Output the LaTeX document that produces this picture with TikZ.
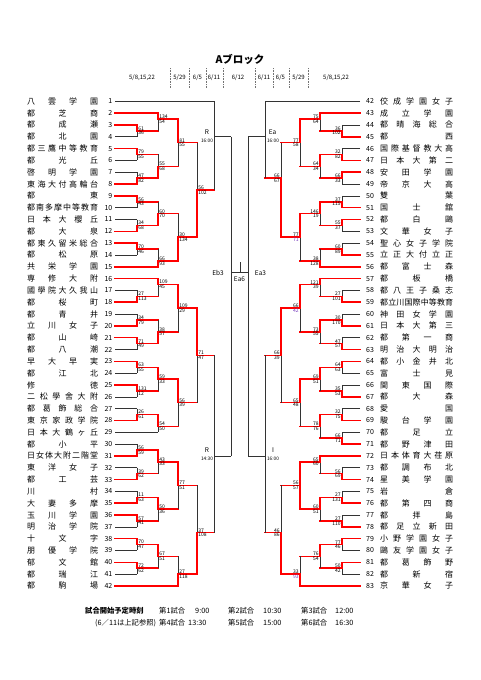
\documentclass[tikz,border=0pt]{standalone}
\usepackage{fontspec}
\setmainfont{Noto Sans CJK JP}
\definecolor{pur}{RGB}{120,60,190}
\newcommand\pur[1]{\textcolor{pur}{#1}}
\newcommand\yr[1]{(101.3+((#1)-1)*11.82)}
\newcommand\spr[2]{\makebox[#1][s]{\sprA#2\relax}}
\def\sprA#1#2\relax{#1\ifx\relax#2\relax\else\hfill\sprA#2\relax\fi}
\def\LO{115}\def\LA{137}\def\LB{158}\def\LC{178}\def\LD{197}\def\LE{214}\def\LF{231}
\def\RO{360}\def\RA{342}\def\RB{320}\def\RC{300}\def\RD{281}\def\RE{265}\def\RF{248}
\newcommand\HL[4]{\draw[#4] (#1,{\yr{#3}}) -- (#2,{\yr{#3}});}
% x, xnext, top, bot, out, winner, score top, score bottom
\newcommand\ML[8]{%
 \draw[lose] (#1,{\yr{#3}}) -- (#1,{\yr{#4}});
 \if n#6\HL{#1}{#2}{#5}{lose}\else\HL{#1}{#2}{#5}{win}\fi
 \if t#6\draw[win] (#1,{\yr{#3}}) -- (#1,{\yr{#5}});\fi
 \if b#6\draw[win] (#1,{\yr{#4}}) -- (#1,{\yr{#5}});\fi
 \if a#6\draw[win] (#1,{\yr{#3}}) -- (#1,{\yr{#4}});\fi
 \node[sc,anchor=south west] at ({#1+0.8},{\yr{#5}}) {#7};
 \node[sc,anchor=north west] at ({#1+0.8},{\yr{#5}}) {#8};}
\newcommand\MR[8]{%
 \draw[lose] (#1,{\yr{#3}}) -- (#1,{\yr{#4}});
 \if n#6\HL{#1}{#2}{#5}{lose}\else\HL{#1}{#2}{#5}{win}\fi
 \if t#6\draw[win] (#1,{\yr{#3}}) -- (#1,{\yr{#5}});\fi
 \if b#6\draw[win] (#1,{\yr{#4}}) -- (#1,{\yr{#5}});\fi
 \if a#6\draw[win] (#1,{\yr{#3}}) -- (#1,{\yr{#4}});\fi
 \node[sc,anchor=south east] at ({#1-0.8},{\yr{#5}}) {#7};
 \node[sc,anchor=north east] at ({#1-0.8},{\yr{#5}}) {#8};}
\newcommand\TNL[2]{\node[nm,anchor=west] (tl#1) at (27,{\yr{#1}}) {\spr{71pt}{#2}};
 \node[num,anchor=east] (nl#1) at (112.5,{\yr{#1}}) {#1};}
\newcommand\TNR[3]{\node[num,anchor=west] (nr#1) at (366,{\yr{#1}}) {#2};
 \node[nm,anchor=west] (tr#1) at (380,{\yr{#1}}) {\spr{73pt}{#3}};}
\tikzset{
 lose/.style={draw=black!80, line width=0.6pt},
 win/.style={draw=red, line width=1.5pt, line cap=rect},
 sc/.style={font=\fontsize{5}{5.5}\selectfont, inner sep=0.3pt},
 nm/.style={font=\fontsize{8}{9}\selectfont, inner sep=0pt},
 num/.style={font=\fontsize{7}{8}\selectfont, inner sep=0pt},
 hdr/.style={font=\fontsize{6}{7}\selectfont, inner sep=0pt},
 sep/.style={draw=black!55, line width=0.4pt, dash pattern=on 0.8pt off 0.8pt},
 lbl/.style={font=\fontsize{6.5}{7}\selectfont, inner sep=0pt},
 tm/.style={font=\fontsize{4.8}{5}\selectfont, inner sep=0pt},
 ft/.style={font=\fontsize{7.3}{8}\selectfont, inner sep=0pt, anchor=west},
}
\begin{document}
\begin{tikzpicture}[x=1pt,y=-1pt]
\fill[white] (0,0) rectangle (481,680);
\useasboundingbox (0,0) rectangle (481,680);
\node[font=\bfseries\fontsize{10.5}{12}\selectfont, inner sep=0pt] (title) at (240,59) {Aブロック};
% header
\node[hdr] (h1) at (142,78) {5/8,15,22};
\node[hdr] (h2) at (179.5,78) {5/29};
\node[hdr] (h3) at (197.5,78) {6/5};
\node[hdr] (h4) at (214,78) {6/11};
\node[hdr] (h5) at (238,78) {6/12};
\node[hdr] (h6) at (264,78) {6/11};
\node[hdr] (h7) at (280.5,78) {6/5};
\node[hdr] (h8) at (298.5,78) {5/29};
\node[hdr] (h9) at (336,78) {5/8,15,22};
\foreach \xx in {170,189.3,205.7,222.7,255,272.7,289,308.3} \draw[sep] (\xx,68) -- (\xx,88);
% left teams
\TNL{1}{八雲学園}\TNL{2}{都芝商}\TNL{3}{都成瀬}\TNL{4}{都北園}\TNL{5}{都三鷹中等教育}
\TNL{6}{都光丘}\TNL{7}{啓明学園}\TNL{8}{東海大付高輪台}\TNL{9}{都東}\TNL{10}{都南多摩中等教育}
\TNL{11}{日本大櫻丘}\TNL{12}{都大泉}\TNL{13}{都東久留米総合}\TNL{14}{都松原}\TNL{15}{共栄学園}
\TNL{16}{専修大附}\TNL{17}{國學院大久我山}\TNL{18}{都桜町}\TNL{19}{都青井}\TNL{20}{立川女子}
\TNL{21}{都山崎}\TNL{22}{都八潮}\TNL{23}{早大早実}\TNL{24}{都江北}\TNL{25}{修徳}
\TNL{26}{二松學舍大附}\TNL{27}{都葛飾総合}\TNL{28}{東京家政学院}\TNL{29}{日本大鶴ヶ丘}\TNL{30}{都小平}
\TNL{31}{日女体大附二階堂}\TNL{32}{東洋女子}\TNL{33}{都工芸}\TNL{34}{川村}\TNL{35}{大妻多摩}
\TNL{36}{玉川学園}\TNL{37}{明治学院}\TNL{38}{十文字}\TNL{39}{朋優学院}\TNL{40}{郁文館}
\TNL{41}{都瑞江}\TNL{42}{都駒場}
% right teams
\TNR{1}{42}{佼成学園女子}\TNR{2}{43}{成立学園}\TNR{3}{44}{都晴海総合}\TNR{4}{45}{都西}
\TNR{5}{46}{国際基督教大高}\TNR{6}{47}{日本大第二}\TNR{7}{48}{安田学園}\TNR{8}{49}{帝京大高}
\TNR{9}{50}{雙葉}\TNR{10}{51}{国士舘}\TNR{11}{52}{都白鷗}\TNR{12}{53}{文華女子}
\TNR{13}{54}{聖心女子学院}\TNR{14}{55}{立正大付立正}\TNR{15}{56}{都富士森}\TNR{16}{57}{都板橋}
\TNR{17}{58}{都八王子桑志}\TNR{18}{59}{都立川国際中等教育}\TNR{19}{60}{神田女学園}\TNR{20}{61}{日本大第三}
\TNR{21}{62}{都第一商}\TNR{22}{63}{明治大明治}\TNR{23}{64}{都小金井北}\TNR{24}{65}{富士見}
\TNR{25}{66}{関東国際}\TNR{26}{67}{都大森}\TNR{27}{68}{愛国}\TNR{28}{69}{駿台学園}
\TNR{29}{70}{都足立}\TNR{30}{71}{都野津田}\TNR{31}{72}{日本体育大荏原}\TNR{32}{73}{都調布北}
\TNR{33}{74}{星美学園}\TNR{34}{75}{岩倉}\TNR{35}{76}{都第四商}\TNR{36}{77}{都拝島}
\TNR{37}{78}{都足立新田}\TNR{38}{79}{小野学園女子}\TNR{39}{80}{鷗友学園女子}\TNR{40}{81}{都葛飾野}
\TNR{41}{82}{都新宿}\TNR{42}{83}{京華女子}
% left team lines
\HL{\LO}{\LE}{1}{lose}\HL{\LO}{\LB}{2}{win}
\foreach \r/\s in {3/win,4/lose,5/win,6/lose,7/lose,8/win,9/win,10/lose,11/lose,12/win,13/win,14/lose,
 17/lose,18/win,19/lose,20/win,21/win,22/lose,23/win,24/lose,25/win,26/lose,27/lose,28/win,
 30/lose,31/win,32/lose,33/win,34/lose,35/win,36/win,37/lose,38/win,39/lose,40/win,41/lose}{\HL{\LO}{\LA}{\r}{\s}}
\HL{\LO}{\LB}{15}{win}\HL{\LO}{\LB}{16}{win}\HL{\LO}{\LB}{29}{lose}\HL{\LO}{\LC}{42}{win}
% right team lines
\HL{\RO}{\RE}{1}{lose}\HL{\RO}{\RB}{2}{win}
\foreach \r/\s in {3/lose,4/win,5/lose,6/win,7/win,8/lose,9/lose,10/win,11/win,12/lose,13/lose,14/win,
 17/lose,18/win,19/lose,20/win,21/lose,22/win,23/win,24/lose,25/lose,26/win,27/lose,28/win,29/lose,30/win,
 32/lose,33/win,34/lose,35/win,36/lose,37/win,38/win,39/lose,40/win,41/lose}{\HL{\RO}{\RA}{\r}{\s}}
\HL{\RO}{\RB}{15}{win}\HL{\RO}{\RB}{16}{win}\HL{\RO}{\RB}{31}{win}\HL{\RO}{\RC}{42}{win}
% left matches
\ML{\LA}{\LB}{3}{4}{3.5}{t}{61}{36}
\ML{\LB}{\LC}{2}{3.5}{2.5}{t}{134}{54}
\ML{\LA}{\LB}{5}{6}{5.5}{t}{79}{55}
\ML{\LA}{\LB}{7}{8}{7.5}{b}{47}{82}
\ML{\LB}{\LC}{5.5}{7.5}{6.5}{b}{55}{68}
\ML{\LC}{\LD}{2.5}{6.5}{4.5}{t}{81}{55}
\ML{\LA}{\LB}{9}{10}{9.5}{t}{56}{43}
\ML{\LA}{\LB}{11}{12}{11.5}{b}{34}{68}
\ML{\LB}{\LC}{9.5}{11.5}{10.5}{b}{60}{70}
\ML{\LA}{\LB}{13}{14}{13.5}{t}{70}{46}
\ML{\LB}{\LC}{13.5}{15}{14.5}{b}{66}{93}
\ML{\LC}{\LD}{10.5}{14.5}{12.5}{b}{30}{134}
\ML{\LD}{\LE}{4.5}{12.5}{8.5}{b}{56}{102}
\ML{\LE}{\LF}{1}{8.5}{4}{n}{}{}
\ML{\LA}{\LB}{17}{18}{17.5}{b}{27}{113}
\ML{\LB}{\LC}{16}{17.5}{16.5}{t}{109}{45}
\ML{\LA}{\LB}{19}{20}{19.5}{b}{34}{79}
\ML{\LA}{\LB}{21}{22}{21.5}{t}{71}{49}
\ML{\LB}{\LC}{19.5}{21.5}{20.5}{b}{38}{57}
\ML{\LC}{\LD}{16.5}{20.5}{18.5}{t}{109}{29}
\ML{\LA}{\LB}{23}{24}{23.5}{t}{63}{55}
\ML{\LA}{\LB}{25}{26}{25.5}{t}{131}{12}
\ML{\LB}{\LC}{23.5}{25.5}{24.5}{t}{59}{33}
\ML{\LA}{\LB}{27}{28}{27.5}{b}{26}{61}
\ML{\LB}{\LC}{27.5}{29}{28.5}{t}{54}{50}
\ML{\LC}{\LD}{24.5}{28.5}{26.5}{t}{56}{39}
\ML{\LD}{\LE}{18.5}{26.5}{22.5}{t}{71}{47}
\ML{\LA}{\LB}{30}{31}{30.5}{b}{56}{59}
\ML{\LA}{\LB}{32}{33}{32.5}{b}{39}{62}
\ML{\LB}{\LC}{30.5}{32.5}{31.5}{t}{43}{33}
\ML{\LA}{\LB}{34}{35}{34.5}{b}{11}{63}
\ML{\LA}{\LB}{36}{37}{36.5}{t}{57}{41}
\ML{\LB}{\LC}{34.5}{36.5}{35.5}{t}{50}{36}
\ML{\LC}{\LD}{31.5}{35.5}{33.5}{t}{77}{51}
\ML{\LA}{\LB}{38}{39}{38.5}{t}{70}{47}
\ML{\LA}{\LB}{40}{41}{40.5}{t}{72}{62}
\ML{\LB}{\LC}{38.5}{40.5}{39.5}{t}{67}{51}
\ML{\LC}{\LD}{39.5}{42}{41}{b}{27}{118}
\ML{\LD}{\LE}{33.5}{41}{37.5}{b}{37}{108}
\ML{\LE}{\LF}{22.5}{37.5}{31}{n}{}{}
% right matches
\MR{\RA}{\RB}{3}{4}{3.5}{b}{36}{102}
\MR{\RB}{\RC}{2}{3.5}{2.5}{t}{75}{64}
\MR{\RA}{\RB}{5}{6}{5.5}{b}{32}{82}
\MR{\RA}{\RB}{7}{8}{7.5}{t}{66}{33}
\MR{\RB}{\RC}{5.5}{7.5}{6.5}{t}{64}{34}
\MR{\RC}{\RD}{2.5}{6.5}{4.5}{t}{77}{58}
\MR{\RA}{\RB}{9}{10}{9.5}{b}{37}{115}
\MR{\RA}{\RB}{11}{12}{11.5}{t}{55}{37}
\MR{\RB}{\RC}{9.5}{11.5}{10.5}{t}{146}{19}
\MR{\RA}{\RB}{13}{14}{13.5}{b}{60}{89}
\MR{\RB}{\RC}{13.5}{15}{14.5}{b}{38}{128}
\MR{\RC}{\RD}{10.5}{14.5}{12.5}{t}{77}{\pur{71}}
\MR{\RD}{\RE}{4.5}{12.5}{7.5}{b}{66}{67}
\MR{\RE}{\RF}{1}{7.5}{4}{n}{}{}
\MR{\RA}{\RB}{17}{18}{17.5}{b}{27}{101}
\MR{\RB}{\RC}{16}{17.5}{16.5}{t}{121}{39}
\MR{\RA}{\RB}{19}{20}{19.5}{b}{30}{170}
\MR{\RA}{\RB}{21}{22}{21.5}{b}{47}{57}
\MR{\RB}{\RC}{19.5}{21.5}{20.5}{t}{73}{55}
\MR{\RC}{\RD}{16.5}{20.5}{18.5}{t}{66}{\pur{42}}
\MR{\RA}{\RB}{23}{24}{23.5}{t}{64}{63}
\MR{\RA}{\RB}{25}{26}{25.5}{b}{35}{53}
\MR{\RB}{\RC}{23.5}{25.5}{24.5}{t}{69}{51}
\MR{\RA}{\RB}{27}{28}{27.5}{b}{32}{75}
\MR{\RA}{\RB}{29}{30}{29.5}{b}{66}{71}
\MR{\RB}{\RC}{27.5}{29.5}{28.5}{t}{78}{76}
\MR{\RC}{\RD}{24.5}{28.5}{26.5}{t}{65}{48}
\MR{\RD}{\RE}{18.5}{26.5}{22.5}{t}{66}{39}
\MR{\RA}{\RB}{32}{33}{32.5}{b}{56}{69}
\MR{\RB}{\RC}{31}{32.5}{31.5}{t}{65}{60}
\MR{\RA}{\RB}{34}{35}{34.5}{b}{27}{131}
\MR{\RA}{\RB}{36}{37}{36.5}{b}{27}{110}
\MR{\RB}{\RC}{34.5}{36.5}{35.5}{t}{60}{51}
\MR{\RC}{\RD}{31.5}{35.5}{33.5}{a}{56}{57}
\MR{\RA}{\RB}{38}{39}{38.5}{t}{77}{46}
\MR{\RA}{\RB}{40}{41}{40.5}{t}{50}{42}
\MR{\RB}{\RC}{38.5}{40.5}{39.5}{t}{76}{54}
\MR{\RC}{\RD}{39.5}{42}{41}{b}{33}{\pur{93}}
\MR{\RD}{\RE}{33.5}{41}{37.5}{b}{46}{86}
\MR{\RE}{\RF}{22.5}{37.5}{31}{n}{}{}
% centre
\draw[lose] (\LF,{\yr{4}}) -- (\LF,{\yr{31}});
\draw[lose] (\RF,{\yr{4}}) -- (\RF,{\yr{31}});
\coordinate (cl) at (\LF,272.7);
\coordinate (cr) at (\RF,272.7);
\coordinate (ct) at (240,262);
\coordinate (cb) at (240,272.7);
\draw[lose] (cl) -- (cr);
\draw[lose] (ct) -- (cb);
\node[lbl] (eb3) at (218,273) {Eb3};
\node[lbl] (ea3) at (260.5,273) {Ea3};
\node[lbl] (ea6) at (239.5,279.5) {Ea6};
% match labels
\node[lbl] (r1) at (207,132) {R};
\node[tm] (r1t) at (207,141) {16:00};
\node[lbl] (r2) at (207,450) {R};
\node[tm] (r2t) at (207,459) {14:30};
\node[lbl] (ea) at (272.5,132) {Ea};
\node[tm] (eat) at (273,141) {16:00};
\node[lbl] (ii) at (273,450) {I};
\node[tm] (iit) at (273,459) {16:00};
% footer
\node[ft,font=\bfseries\fontsize{7.3}{8}\selectfont] (f0) at (85,611) {試合開始予定時刻};
\node[ft] (f1) at (159,611) {第1試合};
\node[ft] (f2) at (195,611) {9:00};
\node[ft] (f3) at (228,611) {第2試合};
\node[ft] (f4) at (263,611) {10:30};
\node[ft] (f5) at (301,611) {第3試合};
\node[ft] (f6) at (335,611) {12:00};
\node[ft] (g0) at (95,623) {(6／11は上記参照)};
\node[ft] (g1) at (159,623) {第4試合};
\node[ft] (g2) at (188,623) {13:30};
\node[ft] (g3) at (228,623) {第5試合};
\node[ft] (g4) at (263,623) {15:00};
\node[ft] (g5) at (301,623) {第6試合};
\node[ft] (g6) at (335,623) {16:30};
\end{tikzpicture}
\end{document}
